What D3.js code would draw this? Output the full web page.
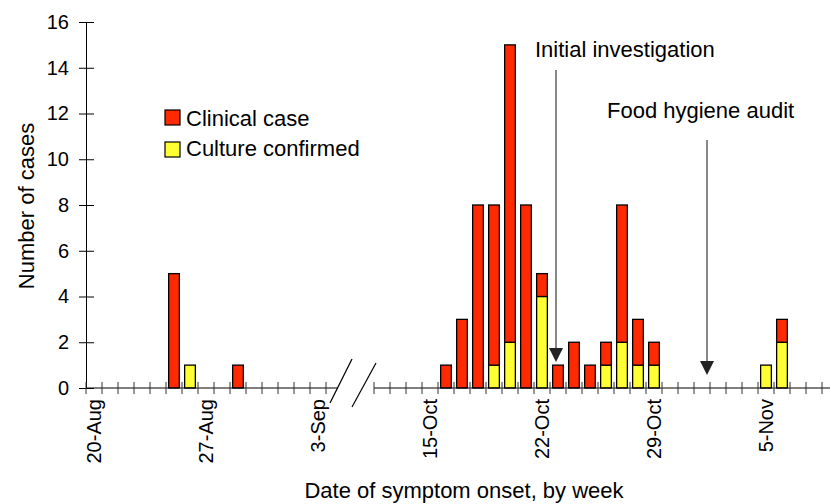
<!DOCTYPE html>
<html>
<head>
<meta charset="utf-8">
<script src="https://cdn.jsdelivr.net/npm/d3@7"></script>
<style>
  body { margin: 0; background: #fff; }
  text { font-family: "Liberation Sans", Arial, sans-serif; fill: #000; }
</style>
</head>
<body>
<div id="chart"></div>
<script>
// day categories (the axis is broken between 6-Sep and 12-Oct)
var days = [
  "20-Aug","21-Aug","22-Aug","23-Aug","24-Aug","25-Aug","26-Aug","27-Aug","28-Aug","29-Aug","30-Aug","31-Aug",
  "1-Sep","2-Sep","3-Sep","4-Sep","5-Sep","6-Sep",
  "12-Oct","13-Oct","14-Oct","15-Oct","16-Oct","17-Oct","18-Oct","19-Oct","20-Oct","21-Oct","22-Oct","23-Oct",
  "24-Oct","25-Oct","26-Oct","27-Oct","28-Oct","29-Oct","30-Oct","31-Oct",
  "1-Nov","2-Nov","3-Nov","4-Nov","5-Nov","6-Nov","7-Nov","8-Nov","9-Nov"
];

// clinical cases (red, stacked on top)
var clinical = [
  0,0,0,0,0,5,0,0,0,1,0,0,
  0,0,0,0,0,0,
  0,0,0,0,1,3,8,7,13,8,1,1,
  2,1,1,6,2,1,0,0,
  0,0,0,0,0,1,0,0,0
];

// culture confirmed (yellow, bottom)
var culture = [
  0,0,0,0,0,0,1,0,0,0,0,0,
  0,0,0,0,0,0,
  0,0,0,0,0,0,0,1,2,0,4,0,
  0,0,1,2,1,1,0,0,
  0,0,0,0,1,2,0,0,0
];

var tickLabels = ["20-Aug","27-Aug","3-Sep","15-Oct","22-Oct","29-Oct","5-Nov"];
var yTicks = [0,2,4,6,8,10,12,14,16];
var hiddenDays = ["4-Sep","5-Sep","6-Sep"]; // behind the axis break

var annotations = [
  {label: "Initial investigation", day: "23-Oct"},
  {label: "Food hygiene audit", day: "1-Nov"}
];

var width = 830, height = 504;
var red = "#ff2a00", yellow = "#ffff33";

var svg = d3.select("#chart").append("svg")
    .attr("width", width)
    .attr("height", height);

var x = d3.scaleBand()
    .domain(days)
    .range([86, 838])
    .paddingInner(0.33)
    .paddingOuter(0.165);

var y = d3.scaleLinear()
    .domain([0, 16])
    .range([388, 22]);

var data = days.map(function(d, i) {
  return {day: d, culture: culture[i], clinical: clinical[i]};
});

var stack = d3.stack().keys(["culture", "clinical"]);
var series = stack(data);
var col = {culture: yellow, clinical: red};

// bars
svg.append("g").selectAll("g")
  .data(series)
  .enter().append("g")
    .attr("fill", function(s) { return col[s.key]; })
  .selectAll("rect")
  .data(function(s) { return s.filter(function(d) { return d[1] > d[0]; }); })
  .enter().append("rect")
    .attr("x", function(d) { return x(d.data.day); })
    .attr("y", function(d) { return y(d[1]); })
    .attr("width", x.bandwidth())
    .attr("height", function(d) { return y(d[0]) - y(d[1]); })
    .attr("stroke", "#000")
    .attr("stroke-width", 1.3);

// y axis
var yAxis = d3.axisLeft(y)
    .tickValues(yTicks)
    .tickSizeInner(0)
    .tickSizeOuter(0)
    .tickPadding(17);

var gy = svg.append("g")
    .attr("transform", "translate(86,0)")
    .call(yAxis);
gy.select(".domain").attr("stroke", "#000");
gy.selectAll("text").style("font-size", "20px").attr("fill", "#000");
gy.selectAll(".tick").append("line")
    .attr("x1", -7).attr("x2", 8)
    .attr("stroke", "#000");

// x axis: line in two pieces around the break
var off = (x.step() - x.bandwidth()) / 2;
var breakLeft = x(hiddenDays[0]) - off;                       // last visible tick on the left
var breakRight = x(hiddenDays[hiddenDays.length - 1]) + x.bandwidth() + off;
var bx = x(hiddenDays[1]) + x.bandwidth() / 2;

svg.append("line")
    .attr("x1", 86).attr("x2", bx - 12)
    .attr("y1", y(0)).attr("y2", y(0))
    .attr("stroke", "#000");
svg.append("line")
    .attr("x1", breakRight).attr("x2", width)
    .attr("y1", y(0)).attr("y2", y(0))
    .attr("stroke", "#000");

// tick marks between day categories
var bounds = days.map(function(d) { return x(d) - off; });
bounds.push(x(days[days.length - 1]) + x.bandwidth() + off);
svg.append("g").selectAll("line")
  .data(bounds.filter(function(b) { return b <= breakLeft + 0.5 || b >= breakRight - 0.5; }))
  .enter().append("line")
    .attr("x1", function(b) { return b; })
    .attr("x2", function(b) { return b; })
    .attr("y1", y(0) - 6)
    .attr("y2", y(0) + 6)
    .attr("stroke", "#333");

// break slashes
svg.append("line")
    .attr("x1", bx + 2).attr("y1", 359)
    .attr("x2", bx - 20).attr("y2", 403)
    .attr("stroke", "#000").attr("stroke-width", 1.2);
svg.append("line")
    .attr("x1", bx + 26).attr("y1", 363)
    .attr("x2", bx + 2).attr("y2", 407)
    .attr("stroke", "#000").attr("stroke-width", 1.2);

// x tick labels, rotated
var xAxis = d3.axisBottom(x)
    .tickValues(tickLabels)
    .tickSize(0)
    .tickPadding(0);

var gx = svg.append("g")
    .attr("transform", "translate(0," + y(0) + ")")
    .call(xAxis);
gx.select(".domain").remove();
gx.selectAll("text")
    .style("font-size", "20px")
    .attr("fill", "#000")
    .attr("text-anchor", "end")
    .attr("transform", "rotate(-90)")
    .attr("x", -11)
    .attr("y", 0)
    .attr("dy", "0.35em");

// axis titles
svg.append("text")
    .attr("x", 464)
    .attr("y", 498)
    .style("font-size", "22px")
    .style("text-anchor", "middle")
    .text("Date of symptom onset, by week");

svg.append("text")
    .attr("transform", "rotate(-90)")
    .attr("x", -206)
    .attr("y", 34)
    .style("font-size", "22px")
    .style("text-anchor", "middle")
    .text("Number of cases");

// legend
var legend = svg.append("g");
[["Clinical case", red], ["Culture confirmed", yellow]].forEach(function(l, i) {
  legend.append("rect")
      .attr("x", 165).attr("y", 110 + i * 32)
      .attr("width", 15).attr("height", 15)
      .attr("fill", l[1])
      .attr("stroke", "#000").attr("stroke-width", 1.2);
  legend.append("text")
      .attr("x", 186).attr("y", 126 + i * 30)
      .style("font-size", "22px")
      .text(l[0]);
});

// annotation arrows
var arrowSpec = [
  {textX: 535, textY: 57, top: 70, tip: 362, dx: -2},
  {textX: 607, textY: 118, top: 140, tip: 375, dx: 5}
];
annotations.forEach(function(a, i) {
  var s = arrowSpec[i];
  var ax = x(a.day) + x.bandwidth() / 2 + s.dx;
  svg.append("text")
      .attr("x", s.textX).attr("y", s.textY)
      .style("font-size", "22px")
      .text(a.label);
  svg.append("line")
      .attr("x1", ax).attr("x2", ax)
      .attr("y1", s.top).attr("y2", s.tip - 12)
      .attr("stroke", "#888").attr("stroke-width", 2);
  svg.append("path")
      .attr("d", "M" + (ax - 7) + "," + (s.tip - 14) + "L" + (ax + 7) + "," + (s.tip - 14) + "L" + ax + "," + s.tip + "Z")
      .attr("fill", "#222");
});
</script>
</body>
</html>
